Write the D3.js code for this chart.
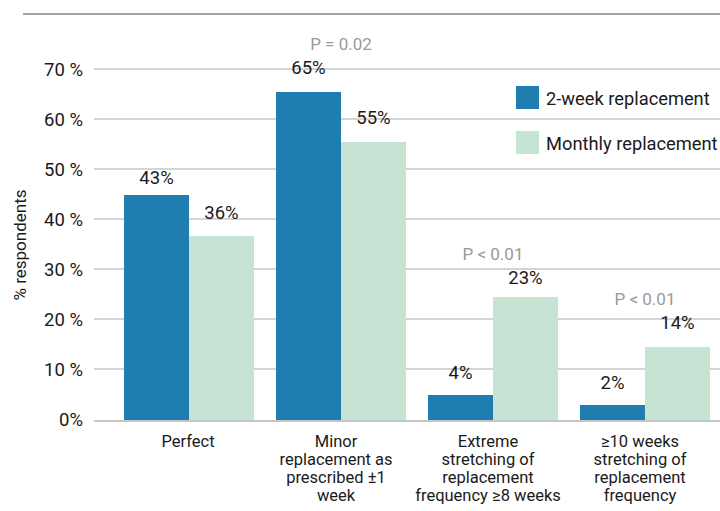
<!DOCTYPE html>
<html><head><meta charset="utf-8">
<script src="https://cdn.jsdelivr.net/npm/d3@7"></script>
<style>html,body{margin:0;padding:0;background:#fff;overflow:hidden}svg{display:block}</style>
</head><body>
<svg id="c" width="720" height="511"></svg>
<script>
const categories = [
  ["Perfect"],
  ["Minor", "replacement as", "prescribed \u00b11", "week"],
  ["Extreme", "stretching of", "replacement", "frequency \u22658 weeks"],
  ["\u226510 weeks", "stretching of", "replacement", "frequency"]
];
const seriesNames = ["2-week replacement", "Monthly replacement"];
const twoWeek = [44.8, 65.4, 4.8, 2.8];
const monthly = [36.6, 55.4, 24.4, 14.4];
const twoWeekLabels = [43, 65, 4, 2];
const monthlyLabels = [36, 55, 23, 14];
const pValues = [null, "P = 0.02", "P < 0.01", "P < 0.01"];
const yTicks = [0, 10, 20, 30, 40, 50, 60, 70];
const yTickLabels = ["0%", "10 %", "20 %", "30 %", "40 %", "50 %", "60 %", "70 %"];

const colors = ["#1f7db0", "#c6e4d3"];
const font = "Roboto, 'Liberation Sans', sans-serif";
const svg = d3.select("#c");

const y = d3.scaleLinear().domain([0, 70]).range([419, 69]);
const x0 = d3.scaleBand().domain(d3.range(4)).range([113.4, 720.6]).paddingInner(0.145).paddingOuter(0.07);
const x1 = d3.scaleBand().domain([0, 1]).range([0, x0.bandwidth()]);

// top rule
svg.append("line").attr("x1", 23).attr("x2", 720).attr("y1", 14).attr("y2", 14)
  .attr("stroke", "#858585").attr("stroke-width", 1.6);

// gridlines
svg.append("g").selectAll("line").data(yTicks.filter(d => d > 0)).join("line")
  .attr("x1", 94).attr("x2", 720).attr("y1", d => y(d)).attr("y2", d => y(d))
  .attr("stroke", "#c6c6c6").attr("stroke-width", 1.5);

// tick labels
svg.append("g").selectAll("text").data(yTicks).join("text")
  .attr("x", 83).attr("y", d => y(d) + 6.5).attr("text-anchor", "end")
  .attr("font-family", font).attr("font-size", 18.5).attr("fill", "#1a1a1a")
  .text((d, i) => yTickLabels[i]);

// y title
svg.append("text").attr("transform", "translate(26,245) rotate(-90)")
  .attr("text-anchor", "middle").attr("font-family", font).attr("font-size", 17).attr("fill", "#1a1a1a")
  .text("% respondents");

const series = [twoWeek, monthly];
const labels = [twoWeekLabels, monthlyLabels];

// bars
series.forEach((vals, s) => {
  svg.append("g").selectAll("rect").data(vals).join("rect")
    .attr("x", (d, i) => x0(i) + x1(s))
    .attr("width", x1.bandwidth())
    .attr("y", d => y(d))
    .attr("height", d => 421 - y(d))
    .attr("fill", colors[s]);
});

// axis line
svg.append("line").attr("x1", 94).attr("x2", 720).attr("y1", 421).attr("y2", 421)
  .attr("stroke", "#c6c6c6").attr("stroke-width", 2);

// value labels
labels.forEach((vals, s) => {
  svg.append("g").selectAll("text").data(vals).join("text")
    .attr("x", (d, i) => x0(i) + x1(s) + x1.bandwidth() / 2)
    .attr("y", d => y(d) - 20)
    .attr("text-anchor", "middle").attr("font-family", font).attr("font-size", 18.5).attr("fill", "#1a1a1a")
    .text(d => d + "%");
});

// p values
svg.append("g").selectAll("text").data(pValues.map((p, i) => ({p, i})).filter(d => d.p)).join("text")
  .attr("x", d => x0(d.i) + x0.bandwidth() / 2)
  .attr("y", d => y(Math.max(twoWeekLabels[d.i], monthlyLabels[d.i])) - 44)
  .attr("text-anchor", "middle").attr("font-family", font).attr("font-size", 17).attr("fill", "#9a9a9a")
  .text(d => d.p);

// category labels
const cat = svg.append("g").selectAll("text").data(categories).join("text")
  .attr("text-anchor", "middle").attr("font-family", font).attr("font-size", 16.5).attr("fill", "#1a1a1a")
  .attr("transform", (d, i) => `translate(${x0(i) + x0.bandwidth() / 2 - (i === 0 ? 1 : 5)},447)`);
cat.selectAll("tspan").data(d => d).join("tspan")
  .attr("x", 0).attr("dy", (d, i) => i === 0 ? 0 : 18).text(d => d);

// legend
const lg = svg.append("g").attr("transform", "translate(516,86)");
seriesNames.forEach((n, i) => {
  lg.append("rect").attr("x", 0).attr("y", i * 45).attr("width", 23).attr("height", 23).attr("fill", colors[i]);
  lg.append("text").attr("x", 30).attr("y", i * 45 + 19).attr("font-family", font).attr("font-size", 18.3)
    .attr("fill", "#1a1a1a").text(n);
});
</script>
</body></html>
